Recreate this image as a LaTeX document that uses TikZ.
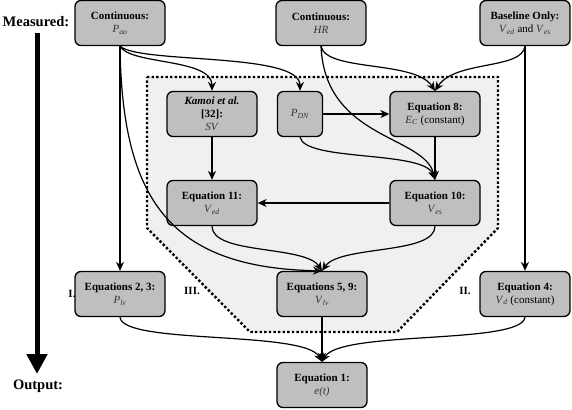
\documentclass[tikz,border=0pt]{standalone}
\usepackage{fontspec}
\setmainfont{Liberation Serif}
\usetikzlibrary{arrows.meta}
\definecolor{boxgray}{HTML}{BFBFBF}
\definecolor{regiongray}{HTML}{F0F0F0}
\definecolor{itgray}{HTML}{333333}
\newcommand{\vv}[2]{\textcolor{itgray}{\textit{#1}\textsubscript{\textit{#2}}}}
\newcommand{\iv}[1]{\textcolor{itgray}{\textit{#1}}}
\begin{document}
\begin{tikzpicture}[x=1pt,y=-1pt,
  box/.style={draw, line width=1.3pt, rounded corners=6pt, fill=boxgray,
    minimum width=90pt, minimum height=45pt, align=center,
    font=\fontsize{11}{13}\selectfont, inner sep=1pt},
  smallbox/.style={box, minimum width=45pt},
  conn/.style={line width=1.2pt, -{Stealth[length=9pt,width=8pt]}},
  side/.style={font=\bfseries\fontsize{14.5}{16}\selectfont},
  roman/.style={font=\bfseries\fontsize{11}{13}\selectfont}
]
\useasboundingbox (0,0) rectangle (572,409);

% region
\draw[line width=2.4pt, dash pattern=on 2.4pt off 2.2pt, fill=regiongray]
  (147,77) -- (498,77) -- (498,228) -- (397,332) -- (250,332) -- (147,228) -- cycle;

% side labels and main arrow
\node[side] (meas) at (36,22) {Measured:};
\node[side] (outp) at (38,386) {Output:};
\coordinate (atop) at (37,33);
\coordinate (abot) at (37,374);
\draw[line width=5pt, -{Triangle[length=20pt,width=20pt]}] (atop) -- (abot);

\node[roman] (lI) at (72,294) {I.};
\node[roman] (lIII) at (192,291) {III.};
\node[roman] (lII) at (465,291) {II.};

% nodes
\node[box] (pao) at (120,23) {\textbf{Continuous:}\\ \vv{P}{ao}};
\node[box] (hr) at (321,23) {\textbf{Continuous:}\\ \iv{HR}};
\node[box] (base) at (525,23) {\textbf{Baseline Only:}\\ \vv{V}{ed} and \vv{V}{es}};
\node[box] (kam) at (212,114) {\textbf{\textit{Kamoi et al.}}\\ \textbf{[32]:}\\ \iv{SV}};
\node[smallbox] (pdn) at (300,114) {\vv{P}{DN}};
\node[box] (eq8) at (435,114) {\textbf{Equation 8:}\\ \vv{E}{C} (constant)};
\node[box] (eq11) at (212,203) {\textbf{Equation 11:}\\ \vv{V}{ed}};
\node[box] (eq10) at (435,203) {\textbf{Equation 10:}\\ \vv{V}{es}};
\node[box] (eq23) at (120,294) {\textbf{Equations 2, 3:}\\ \vv{P}{lv}};
\node[box] (eq59) at (322,294) {\textbf{Equations 5, 9:}\\ \vv{V}{lv}};
\node[box] (eq4) at (525,294) {\textbf{Equation 4:}\\ \vv{V}{d} (constant)};
\node[box] (eq1) at (322,385) {\textbf{Equation 1:}\\ \iv{e(t)}};

% connectors
\draw[conn] (pao.south) -- (eq23.north);
\draw[conn] (pao.south) .. controls (130,65) and (212,58) .. (kam.north);
\draw[conn] (pao.south) .. controls (140,64) and (300,52) .. (pdn.north);
\draw[conn] (pao.south) .. controls (122,200) and (170,268) .. (eq59.north);
\draw[conn] (hr.south) .. controls (326,72) and (415,60) .. (eq8.north);
\draw[conn] (base.south) .. controls (522,70) and (455,60) .. (eq8.north);
\draw[conn] (hr.south) .. controls (325,140) and (425,135) .. (eq10.north);
\draw[conn] (pdn.south) .. controls (305,162) and (425,150) .. (eq10.north);
\draw[conn] (base.south) -- (eq4.north);
\draw[conn] (pdn.east) -- (eq8.west);
\draw[conn] (eq8.south) -- (eq10.north);
\draw[conn] (kam.south) -- (eq11.north);
\draw[conn] (eq10.west) -- (eq11.east);
\draw[conn] (eq11.south) .. controls (212,255) and (305,245) .. (eq59.north);
\draw[conn] (eq10.south) .. controls (435,255) and (340,245) .. (eq59.north);
\draw[conn] (eq23.south) .. controls (122,345) and (305,330) .. (eq1.north);
\draw[conn] (eq59.south) -- (eq1.north);
\draw[conn] (eq4.south) .. controls (522,345) and (340,330) .. (eq1.north);
\end{tikzpicture}
\end{document}
